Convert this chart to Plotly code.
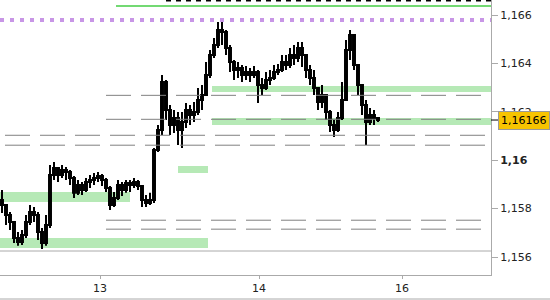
import plotly.graph_objects as go

# ---- candle data (bar index, prices) ----
opens = [1.15836,1.15815,1.15774,1.15745,1.15679,1.15662,1.15691,1.15745,1.15786,1.15774,
         1.15703,1.15658,1.15732,1.15939,1.15968,1.15939,1.15960,1.15951,1.15926,1.15865,
         1.15898,1.15877,1.15910,1.15918,1.15926,1.15935,1.15918,1.15885,1.15815,1.15844,
         1.15898,1.15877,1.15906,1.15898,1.15910,1.15893,1.15836,1.15823,1.15836,1.16042,
         1.16125,1.16323,1.16207,1.16145,1.16174,1.16125,1.16158,1.16207,1.16187,1.16199,
         1.16249,1.16269,1.16352,1.16435,1.16476,1.16538,1.16530,1.16464,1.16406,1.16373,
         1.16381,1.16352,1.16364,1.16352,1.16364,1.16311,1.16298,1.16331,1.16340,1.16364,
         1.16373,1.16406,1.16393,1.16435,1.16422,1.16464,1.16435,1.16373,1.16340,1.16298,
         1.16241,1.16269,1.16199,1.16145,1.16125,1.16174,1.16249,1.16455,1.16517,1.16393,
         1.16311,1.16228,1.16158,1.16187,1.16174]
closes = [1.15815,1.15774,1.15745,1.15679,1.15662,1.15691,1.15745,1.15786,1.15774,1.15703,
          1.15658,1.15732,1.15939,1.15968,1.15939,1.15960,1.15951,1.15926,1.15865,1.15898,
          1.15877,1.15910,1.15918,1.15926,1.15935,1.15918,1.15885,1.15815,1.15844,1.15898,
          1.15877,1.15906,1.15898,1.15910,1.15893,1.15836,1.15823,1.15836,1.16042,1.16125,
          1.16323,1.16207,1.16145,1.16174,1.16125,1.16158,1.16207,1.16187,1.16199,1.16249,
          1.16269,1.16352,1.16435,1.16476,1.16538,1.16530,1.16464,1.16406,1.16373,1.16381,
          1.16352,1.16364,1.16352,1.16364,1.16311,1.16298,1.16331,1.16340,1.16364,1.16373,
          1.16406,1.16393,1.16435,1.16422,1.16464,1.16435,1.16373,1.16340,1.16298,1.16241,
          1.16269,1.16199,1.16145,1.16125,1.16174,1.16249,1.16455,1.16517,1.16393,1.16311,
          1.16228,1.16158,1.16187,1.16174,1.16166]
highs = [1.15877,1.15815,1.15786,1.15745,1.15703,1.15712,1.15774,1.15815,1.15807,1.15786,
         1.15720,1.15774,1.15980,1.15993,1.15972,1.15980,1.15972,1.15960,1.15935,1.15918,
         1.15910,1.15926,1.15939,1.15947,1.15951,1.15943,1.15926,1.15893,1.15869,1.15918,
         1.15910,1.15918,1.15918,1.15926,1.15918,1.15898,1.15856,1.15865,1.16050,1.16145,
         1.16352,1.16331,1.16228,1.16207,1.16199,1.16199,1.16236,1.16228,1.16241,1.16298,
         1.16311,1.16406,1.16455,1.16505,1.16571,1.16571,1.16538,1.16476,1.16414,1.16406,
         1.16393,1.16389,1.16381,1.16389,1.16373,1.16340,1.16364,1.16373,1.16393,1.16398,
         1.16435,1.16435,1.16464,1.16476,1.16488,1.16488,1.16435,1.16393,1.16373,1.16298,
         1.16311,1.16269,1.16207,1.16166,1.16199,1.16323,1.16497,1.16538,1.16517,1.16393,
         1.16311,1.16249,1.16216,1.16207,1.16179]
lows = [1.15782,1.15732,1.15712,1.15658,1.15646,1.15650,1.15679,1.15732,1.15745,1.15670,
        1.15633,1.15646,1.15720,1.15918,1.15910,1.15926,1.15918,1.15898,1.15844,1.15856,
        1.15856,1.15869,1.15885,1.15898,1.15910,1.15893,1.15869,1.15794,1.15807,1.15836,
        1.15852,1.15865,1.15869,1.15885,1.15877,1.15807,1.15807,1.15815,1.15823,1.16034,
        1.16104,1.16166,1.16104,1.16112,1.16063,1.16050,1.16133,1.16145,1.16158,1.16187,
        1.16207,1.16269,1.16340,1.16422,1.16464,1.16476,1.16435,1.16364,1.16331,1.16340,
        1.16323,1.16331,1.16323,1.16340,1.16236,1.16269,1.16290,1.16311,1.16331,1.16352,
        1.16364,1.16373,1.16381,1.16393,1.16406,1.16385,1.16340,1.16311,1.16269,1.16207,
        1.16216,1.16166,1.16117,1.16096,1.16117,1.16166,1.16249,1.16414,1.16373,1.16269,
        1.16187,1.16063,1.16145,1.16145,1.16158]
bar_index = list(range(len(closes)))
last_price = 1.16166

# ---- axes ----
x_tick_vals = [24.5, 64.25, 100]
x_tick_text = ["13", "14", "16"]
y_tick_vals = [1.156, 1.158, 1.160, 1.162, 1.164, 1.166]
y_tick_text = ["1,156", "1,158", "<b>1,16</b>", "1,162", "1,164", "1,166"]
x_range = [-0.5, 122.25]
y_range = [1.155256, 1.16662]

# ---- horizontal levels: (price, start, end) ----
gray_levels = [(1.16268, 26, 119.75), (1.16169, 26, 119.75), (1.16103, 0.75, 120.75),
               (1.16062, 0.75, 120.75), (1.15752, 26, 119.75), (1.15715, 26, 119.75)]
purple_level = (1.16579, -0.5, 122.25)
green_level = (1.16637, 28.5, 122.25)
black_level = (1.16660, 41, 122.25)

# ---- zones: (x0, x1, y0, y1) ----
zones = [(52.5, 122.25, 1.16282, 1.16307), (52.5, 122.25, 1.16145, 1.16174),
         (-0.5, 32, 1.15827, 1.15869), (-0.5, 51.5, 1.15637, 1.15679),
         (44, 51.5, 1.15947, 1.15976)]

fig = go.Figure()

for (p, a, b) in gray_levels:
    fig.add_trace(go.Scatter(x=[a, b], y=[p, p], mode="lines", hoverinfo="skip",
                             line=dict(color="#808080", width=1, dash="25px,10px")))
fig.add_trace(go.Scatter(x=[purple_level[1], purple_level[2]], y=[purple_level[0]] * 2,
                         mode="lines", line=dict(color="#c896e6", width=4, dash="4px,6px")))
fig.add_trace(go.Scatter(x=[green_level[1], green_level[2]], y=[green_level[0]] * 2,
                         mode="lines", line=dict(color="#44cc44", width=1.5)))
fig.add_trace(go.Scatter(x=[black_level[1], black_level[2]], y=[black_level[0]] * 2,
                         mode="lines", line=dict(color="#000000", width=2, dash="5px,5px")))

fig.add_trace(go.Candlestick(
    x=bar_index, open=opens, high=highs, low=lows, close=closes,
    increasing=dict(line=dict(color="black", width=2), fillcolor="black"),
    decreasing=dict(line=dict(color="black", width=2), fillcolor="black"),
    whiskerwidth=0, hoverinfo="skip"))

shapes = []
for (x0, x1, y0, y1) in zones:
    shapes.append(dict(type="rect", xref="x", yref="y", x0=x0, x1=x1, y0=y0, y1=y1,
                       fillcolor="#b6e9b6", line=dict(width=0), layer="below"))
# separator line in price pane and bottom border
shapes.append(dict(type="line", xref="paper", yref="paper", x0=0, x1=1,
                   y0=1 - 251 / 275, y1=1 - 251 / 275, line=dict(color="#aaaaaa", width=1)))
shapes.append(dict(type="line", xref="paper", yref="paper", x0=0, x1=550 / 491,
                   y0=-24 / 275, y1=-24 / 275, line=dict(color="#aaaaaa", width=1)))
# current price tick
shapes.append(dict(type="line", xref="paper", yref="y", x0=1, x1=1 + 8 / 491,
                   y0=last_price, y1=last_price, line=dict(color="black", width=1)))

fig.update_layout(
    width=550, height=300,
    margin=dict(l=0, r=59, t=0, b=25),
    paper_bgcolor="white", plot_bgcolor="white",
    showlegend=False,
    font=dict(family="DejaVu Sans", size=11, color="#222222"),
    shapes=shapes,
    xaxis=dict(range=x_range, tickvals=x_tick_vals, ticktext=x_tick_text,
               showgrid=False, zeroline=False, showline=True, linecolor="#aaaaaa",
               ticks="outside", ticklen=3, tickcolor="#aaaaaa",
               rangeslider=dict(visible=False)),
    yaxis=dict(range=y_range, side="right", tickvals=y_tick_vals, ticktext=y_tick_text,
               showgrid=False, zeroline=False, showline=True, linecolor="#aaaaaa",
               ticks="outside", ticklen=6, tickcolor="#aaaaaa"),
    annotations=[dict(x=1, xref="paper", y=last_price, yref="y", xanchor="left",
                      yanchor="middle", xshift=7, text="1,16166", showarrow=False,
                      bgcolor="#f7c400", bordercolor="#999999", borderwidth=1, borderpad=2,
                      font=dict(family="DejaVu Sans", size=11, color="black"))],
)

fig.write_html("out.html")
